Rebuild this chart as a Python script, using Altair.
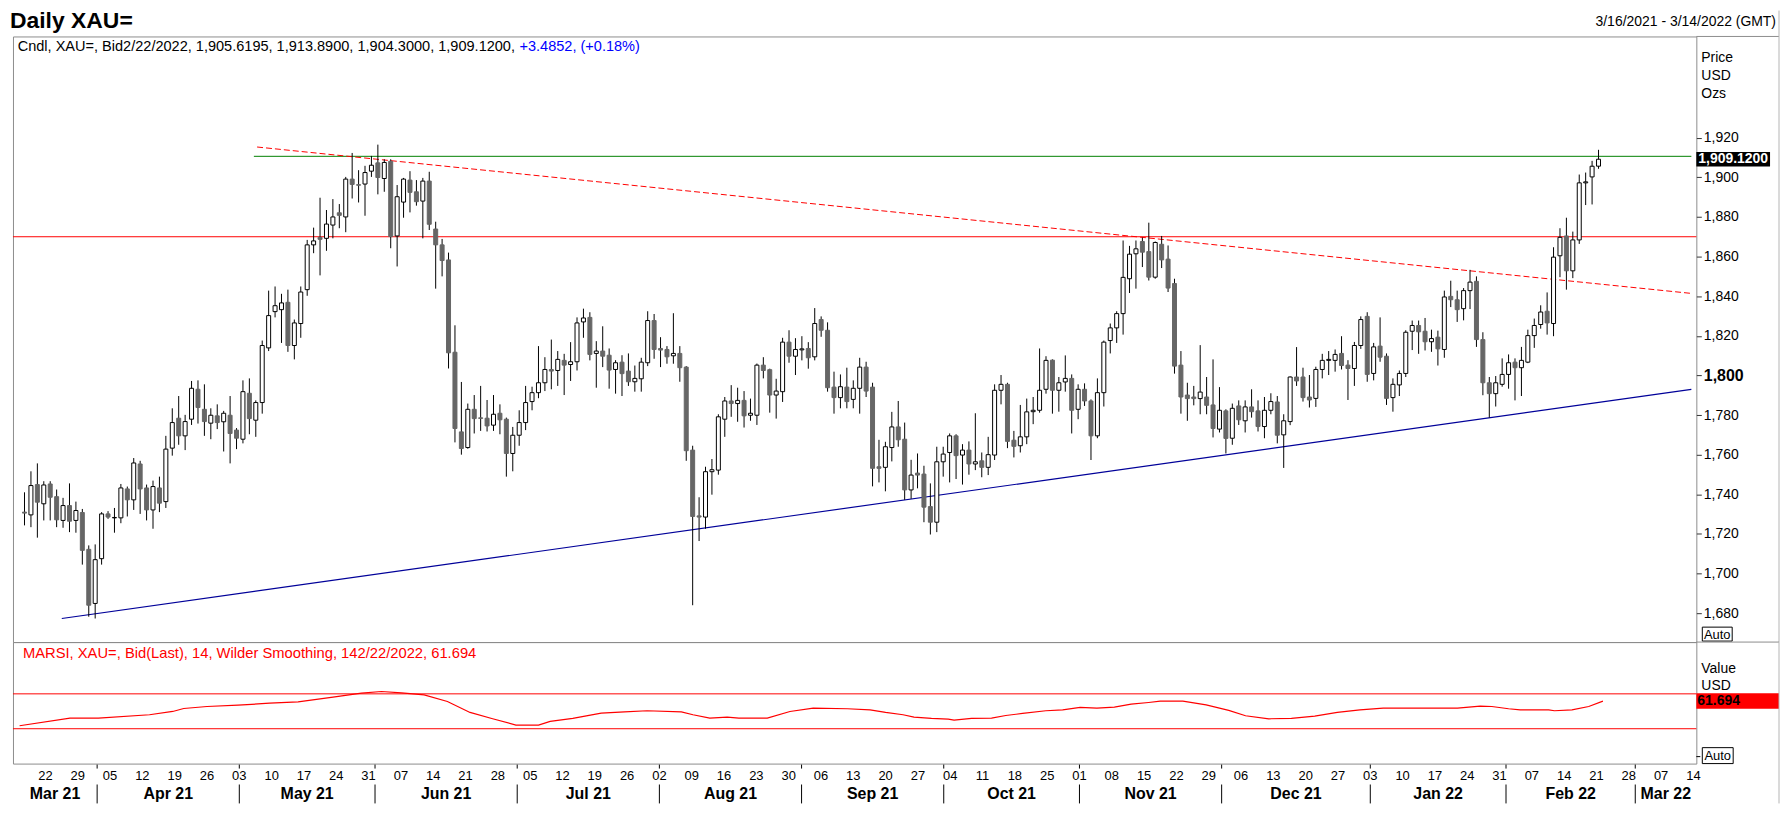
import altair as alt
import pandas as pd

FONT = "Liberation Sans"

# ---------------- data ----------------
OPEN = [
    1731.0, 1729.6, 1744.9, 1735.2, 1745.2, 1738.8, 1726.8, 1734.3, 1726.8, 1730.8,
    1712.2, 1684.9, 1707.5, 1730.1, 1728.1, 1728.1, 1742.7, 1737.2, 1755.3, 1743.2,
    1732.1, 1743.2, 1736.3, 1763.3, 1778.4, 1769.5, 1777.9, 1793.0, 1782.9, 1775.9,
    1779.6, 1776.6, 1779.9, 1772.4, 1767.8, 1791.0, 1777.4, 1786.3, 1813.9, 1832.2,
    1833.2, 1836.9, 1815.1, 1826.2, 1843.3, 1865.9, 1869.7, 1869.2, 1875.9, 1882.1,
    1880.0, 1899.1, 1896.3, 1896.6, 1903.1, 1907.3, 1899.4, 1908.1, 1870.4, 1887.5,
    1898.6, 1892.7, 1888.0, 1898.1, 1873.9, 1865.9, 1858.3, 1811.7, 1771.5, 1763.6,
    1782.9, 1778.6, 1778.4, 1774.9, 1780.9, 1777.9, 1760.6, 1769.8, 1776.2, 1786.8,
    1791.3, 1796.3, 1803.0, 1802.5, 1807.6, 1805.5, 1806.9, 1827.0, 1829.3, 1811.1,
    1812.3, 1810.2, 1803.0, 1806.7, 1802.2, 1796.8, 1798.3, 1806.4, 1827.7, 1813.6,
    1813.1, 1809.9, 1811.1, 1804.2, 1762.3, 1729.1, 1728.5, 1751.4, 1752.2, 1777.9,
    1787.1, 1785.8, 1787.4, 1779.9, 1779.9, 1805.2, 1802.9, 1790.1, 1791.8, 1816.8,
    1809.7, 1812.9, 1813.6, 1809.4, 1828.2, 1822.8, 1794.1, 1788.8, 1794.1, 1787.9,
    1793.5, 1804.2, 1794.1, 1753.9, 1753.6, 1763.6, 1774.0, 1767.8, 1742.2, 1750.7,
    1750.2, 1733.8, 1725.9, 1756.4, 1761.1, 1769.5, 1759.8, 1762.3, 1755.3, 1756.9,
    1753.6, 1759.8, 1792.5, 1795.5, 1767.3, 1764.5, 1769.0, 1781.7, 1782.4, 1793.0,
    1807.7, 1792.5, 1796.7, 1798.5, 1782.9, 1793.0, 1787.1, 1769.5, 1791.3, 1817.6,
    1824.0, 1831.2, 1848.8, 1861.4, 1867.6, 1862.5, 1849.6, 1866.2, 1858.7, 1846.4,
    1805.2, 1790.1, 1789.1, 1788.3, 1789.1, 1785.1, 1772.9, 1782.1, 1768.3, 1784.6,
    1777.1, 1784.1, 1782.1, 1774.2, 1782.4, 1786.6, 1770.0, 1776.7, 1799.2, 1799.2,
    1789.1, 1788.4, 1803.0, 1807.6, 1807.6, 1811.1, 1805.2, 1803.5, 1815.1, 1829.8,
    1801.0, 1814.8, 1809.7, 1788.8, 1795.2, 1801.0, 1822.3, 1825.2, 1822.3, 1817.0,
    1819.3, 1813.1, 1839.9, 1838.2, 1833.7, 1842.8, 1847.5, 1818.1, 1796.3, 1790.8,
    1795.5, 1800.5, 1806.7, 1803.9, 1806.7, 1820.1, 1825.7, 1832.4, 1826.2, 1860.4,
    1870.4, 1852.8, 1868.4, 1897.2, 1900.2, 1905.6195,
]
HIGH = [
    1741.0, 1751.6, 1755.6, 1746.6, 1746.6, 1742.4, 1738.2, 1745.5, 1736.3, 1732.6,
    1714.2, 1714.7, 1731.0, 1731.5, 1733.1, 1745.2, 1743.9, 1758.3, 1756.9, 1744.9,
    1746.9, 1748.9, 1769.5, 1783.4, 1789.6, 1780.1, 1797.2, 1797.5, 1795.5, 1783.4,
    1785.4, 1782.1, 1789.6, 1773.4, 1797.5, 1798.5, 1787.4, 1817.6, 1842.8, 1844.9,
    1841.2, 1843.3, 1828.2, 1844.9, 1868.4, 1874.6, 1889.7, 1883.5, 1889.0, 1886.5,
    1900.2, 1912.3, 1903.6, 1905.8, 1910.8, 1916.5, 1909.1, 1909.1, 1896.1, 1899.7,
    1903.1, 1898.6, 1899.7, 1902.8, 1877.6, 1868.9, 1862.0, 1825.3, 1796.7, 1785.8,
    1790.1, 1794.7, 1787.6, 1790.1, 1785.4, 1778.7, 1774.0, 1782.4, 1794.7, 1794.3,
    1814.8, 1809.2, 1818.1, 1812.3, 1810.9, 1816.8, 1829.3, 1833.7, 1831.9, 1817.3,
    1824.8, 1813.6, 1807.7, 1810.2, 1811.1, 1805.0, 1808.9, 1832.4, 1831.0, 1819.3,
    1814.8, 1831.4, 1814.8, 1804.7, 1764.5, 1738.5, 1753.9, 1757.8, 1780.4, 1789.1,
    1795.1, 1793.8, 1792.1, 1788.3, 1806.0, 1809.2, 1803.4, 1798.3, 1819.0, 1822.8,
    1818.8, 1819.8, 1816.8, 1834.0, 1829.8, 1826.8, 1801.9, 1800.5, 1803.9, 1797.5,
    1808.9, 1806.9, 1796.3, 1767.5, 1766.5, 1781.6, 1787.1, 1776.2, 1757.4, 1760.6,
    1754.4, 1745.5, 1764.0, 1764.0, 1770.7, 1770.3, 1765.3, 1766.7, 1780.9, 1761.1,
    1769.0, 1795.5, 1800.2, 1796.3, 1772.0, 1785.1, 1788.3, 1789.1, 1813.6, 1809.7,
    1808.1, 1799.2, 1810.1, 1800.5, 1795.5, 1796.0, 1787.9, 1798.5, 1817.6, 1826.2,
    1832.4, 1868.1, 1865.4, 1868.1, 1869.6, 1877.1, 1867.6, 1870.4, 1865.6, 1848.8,
    1812.3, 1796.3, 1794.7, 1815.3, 1799.2, 1808.1, 1794.1, 1782.9, 1785.8, 1787.4,
    1787.4, 1793.0, 1787.4, 1789.1, 1791.0, 1789.6, 1780.4, 1799.5, 1814.3, 1803.9,
    1800.2, 1804.4, 1810.9, 1812.3, 1813.1, 1819.8, 1807.7, 1816.9, 1829.8, 1831.9,
    1816.4, 1829.3, 1811.1, 1798.5, 1802.5, 1822.8, 1827.7, 1827.7, 1829.0, 1823.1,
    1822.6, 1842.8, 1847.8, 1842.8, 1844.1, 1853.3, 1850.0, 1821.8, 1799.2, 1799.7,
    1808.6, 1810.6, 1808.6, 1814.4, 1823.1, 1828.7, 1835.4, 1841.9, 1864.7, 1874.3,
    1879.6, 1872.6, 1901.4, 1902.4, 1908.3, 1913.89,
]
LOW = [
    1724.3, 1723.4, 1718.1, 1726.8, 1726.8, 1723.4, 1723.1, 1720.9, 1720.6, 1704.5,
    1678.2, 1677.3, 1704.5, 1727.6, 1720.6, 1725.4, 1728.8, 1732.1, 1730.1, 1726.8,
    1722.6, 1731.0, 1733.1, 1759.5, 1765.0, 1762.3, 1775.0, 1775.7, 1769.5, 1767.8,
    1772.9, 1761.6, 1755.6, 1762.8, 1765.7, 1770.3, 1769.0, 1780.7, 1812.3, 1829.3,
    1816.4, 1811.9, 1808.1, 1819.0, 1840.2, 1861.7, 1850.5, 1862.9, 1869.2, 1874.3,
    1872.3, 1889.3, 1887.3, 1880.6, 1900.2, 1891.4, 1892.7, 1864.2, 1855.0, 1879.6,
    1882.3, 1885.7, 1869.2, 1873.4, 1843.8, 1850.0, 1803.5, 1766.2, 1760.0, 1763.0,
    1770.7, 1772.0, 1771.7, 1772.0, 1770.3, 1748.9, 1751.6, 1764.5, 1772.4, 1782.4,
    1788.5, 1792.1, 1793.0, 1794.7, 1790.1, 1797.2, 1802.5, 1819.0, 1807.6, 1793.8,
    1804.2, 1793.3, 1790.8, 1789.6, 1794.7, 1791.8, 1791.8, 1804.7, 1808.4, 1804.2,
    1805.9, 1805.9, 1796.8, 1756.9, 1684.0, 1716.4, 1722.6, 1739.8, 1749.9, 1769.0,
    1779.1, 1776.6, 1773.7, 1777.1, 1775.0, 1798.5, 1781.2, 1778.2, 1786.6, 1806.4,
    1800.2, 1807.6, 1803.4, 1807.6, 1819.5, 1791.8, 1780.7, 1783.4, 1783.4, 1783.4,
    1780.7, 1789.1, 1744.0, 1746.0, 1741.5, 1756.6, 1764.0, 1737.2, 1737.7, 1743.0,
    1725.9, 1719.7, 1720.9, 1748.9, 1746.0, 1747.7, 1744.9, 1749.9, 1752.2, 1748.6,
    1749.7, 1757.3, 1785.4, 1763.3, 1758.6, 1761.1, 1765.3, 1775.4, 1781.2, 1790.8,
    1780.7, 1781.7, 1791.8, 1770.7, 1777.9, 1784.6, 1757.3, 1768.3, 1784.3, 1811.1,
    1816.4, 1820.6, 1841.6, 1843.8, 1854.7, 1847.9, 1848.8, 1854.2, 1842.1, 1800.9,
    1780.7, 1777.1, 1784.9, 1780.4, 1780.4, 1768.7, 1771.2, 1760.6, 1765.0, 1775.0,
    1771.2, 1778.7, 1771.7, 1768.3, 1780.4, 1765.7, 1753.3, 1774.9, 1794.7, 1786.8,
    1783.8, 1784.1, 1798.5, 1800.2, 1801.9, 1803.0, 1787.6, 1794.7, 1813.4, 1796.8,
    1797.5, 1806.9, 1785.1, 1781.7, 1789.6, 1799.2, 1812.8, 1810.9, 1812.6, 1811.9,
    1805.0, 1808.9, 1834.5, 1827.0, 1827.8, 1833.5, 1814.4, 1790.0, 1778.7, 1784.3,
    1794.3, 1793.3, 1787.4, 1789.6, 1806.2, 1813.9, 1823.6, 1820.6, 1819.8, 1849.6,
    1843.3, 1849.1, 1866.4, 1886.0, 1886.3, 1904.30,
]
CLOSE = [
    1730.5, 1744.4, 1736.0, 1744.7, 1738.5, 1727.1, 1734.3, 1726.4, 1731.8, 1711.7,
    1684.0, 1707.0, 1730.1, 1728.5, 1728.3, 1743.2, 1737.2, 1755.8, 1742.7, 1732.1,
    1743.9, 1735.5, 1762.8, 1776.2, 1769.5, 1776.7, 1793.5, 1783.8, 1776.7, 1779.9,
    1776.2, 1780.9, 1770.7, 1768.3, 1791.8, 1778.2, 1786.3, 1815.1, 1830.2, 1835.2,
    1836.6, 1815.1, 1826.5, 1842.1, 1865.9, 1867.9, 1868.7, 1876.4, 1880.0, 1880.8,
    1899.1, 1896.4, 1896.0, 1902.4, 1906.1, 1899.9, 1907.5, 1870.1, 1890.2, 1899.1,
    1892.4, 1887.7, 1898.1, 1876.3, 1865.9, 1858.0, 1811.4, 1773.2, 1763.1, 1782.9,
    1778.2, 1778.3, 1774.5, 1780.4, 1777.6, 1760.6, 1769.8, 1776.2, 1786.3, 1791.3,
    1796.3, 1803.0, 1802.2, 1808.1, 1805.2, 1806.9, 1826.5, 1829.0, 1810.6, 1812.3,
    1809.7, 1802.7, 1806.4, 1800.9, 1796.8, 1798.5, 1806.7, 1827.7, 1813.1, 1812.8,
    1809.4, 1811.1, 1803.9, 1762.0, 1728.8, 1728.5, 1751.4, 1752.4, 1779.1, 1787.1,
    1785.8, 1787.4, 1779.6, 1780.9, 1805.2, 1802.5, 1790.1, 1792.1, 1816.8, 1809.7,
    1813.1, 1813.4, 1808.9, 1826.2, 1822.8, 1793.8, 1788.8, 1794.3, 1786.8, 1793.5,
    1804.2, 1792.1, 1753.1, 1753.1, 1764.0, 1774.0, 1767.5, 1742.2, 1749.7, 1749.7,
    1733.5, 1725.9, 1756.4, 1760.3, 1769.5, 1759.5, 1762.3, 1755.3, 1756.4, 1753.6,
    1760.0, 1792.5, 1795.5, 1766.7, 1764.2, 1769.0, 1781.6, 1782.4, 1792.5, 1807.6,
    1792.5, 1796.3, 1798.5, 1782.4, 1793.0, 1787.1, 1769.5, 1791.3, 1816.8, 1824.0,
    1831.2, 1849.5, 1861.2, 1863.9, 1862.2, 1849.6, 1867.1, 1858.3, 1844.1, 1804.7,
    1789.1, 1788.3, 1788.3, 1791.6, 1784.9, 1773.2, 1782.4, 1768.2, 1783.4, 1777.6,
    1784.1, 1781.7, 1774.2, 1782.4, 1786.8, 1769.8, 1777.1, 1799.2, 1797.2, 1788.8,
    1787.6, 1803.0, 1807.6, 1808.1, 1810.6, 1805.0, 1803.5, 1815.1, 1828.2, 1800.5,
    1814.4, 1809.2, 1788.4, 1795.5, 1801.0, 1821.8, 1825.2, 1822.0, 1817.0, 1818.6,
    1813.4, 1839.6, 1838.2, 1833.2, 1842.8, 1847.1, 1818.1, 1796.3, 1790.8, 1796.3,
    1800.5, 1806.4, 1803.9, 1807.6, 1820.1, 1825.2, 1832.0, 1826.5, 1859.7, 1869.7,
    1852.8, 1868.4, 1897.2, 1897.7, 1905.6, 1909.12,
]

# RSI (14, Wilder smoothing): trading-day index -> value
RSI_X = [0, 7.8, 12.2, 20.1, 23.7, 25.4, 29.0, 33.8, 38.7, 43.1, 48.5, 52.9, 56.0,
         59.1, 62.6, 66.2, 69.7, 73.2, 76.8, 80.3, 82.1, 85.6, 90.0, 93.6, 97.1,
         102.4, 104.2, 106.8, 109.5, 111.3, 115.7, 119.2, 122.8, 128.1, 131.6, 134.0,
         136.7, 138.4, 141.1, 143.7, 144.6, 147.3, 150.4, 152.6, 155.2, 158.8, 161.4,
         164.1, 166.7, 169.4, 172.0, 174.7, 176.5, 180.0, 183.6, 187.1, 189.7, 193.3,
         196.8, 200.4, 203.9, 207.4, 211.0, 222.5, 226.0, 227.8, 230.4, 232.2, 236.6,
         237.5, 240.2, 242.8, 245.0]
RSI_Y = [33.4, 42.2, 42.2, 46.0, 49.8, 53.2, 55.5, 57.0, 59.3, 60.9, 66.2, 70.8, 72.7,
         71.1, 68.9, 61.2, 48.7, 41.4, 34.2, 34.2, 38.4, 41.8, 47.9, 49.4, 50.6,
         49.4, 46.0, 42.2, 43.3, 42.2, 42.2, 49.8, 53.6, 52.9, 51.7, 48.7,
         46.0, 43.3, 41.8, 41.0, 39.9, 41.8, 42.2, 45.2, 47.5, 50.6, 51.7,
         54.4, 53.6, 54.8, 58.2, 60.1, 61.6, 61.6, 57.4, 51.0, 44.9, 41.4,
         41.8, 44.5, 48.7, 51.7, 53.6, 53.6, 55.9, 55.5, 52.9, 51.7, 51.7,
         50.6, 51.7, 55.5, 61.694]

DAY_LABELS = ["22", "29", "05", "12", "19", "26", "03", "10", "17", "24", "31",
              "07", "14", "21", "28", "05", "12", "19", "26", "02", "09", "16",
              "23", "30", "06", "13", "20", "27", "04", "11", "18", "25", "01",
              "08", "15", "22", "29", "06", "13", "20", "27", "03", "10", "17",
              "24", "31", "07", "14", "21", "28", "07", "14"]
FIRST_MONDAY = 4          # trading-day index of Mon 22 Mar 2021
MONTH_LABELS = ["Mar 21", "Apr 21", "May 21", "Jun 21", "Jul 21", "Aug 21", "Sep 21",
                "Oct 21", "Nov 21", "Dec 21", "Jan 22", "Feb 22", "Mar 22"]
MONTH_START = [12, 34, 55, 77, 99, 121, 143, 164, 186, 209, 230, 250]

PRICE_TICKS = list(range(1680, 1921, 20))
RES_LEVEL = 1870
LAST_PRICE = CLOSE[-1]
DRAWN_LEVEL = 1910.6          # green horizontal line
RSI_BANDS = [70, 30]
RSI_LAST = RSI_Y[-1]
RES_TREND = [36.2, 1915.3, 259.45, 1841.4]   # x, price, x2, price2
SUP_TREND = [5.8, 1677.3, 259.45, 1793.0]
LAST_LINE_START = 35.7

HEADER = "Cndl, XAU=, Bid2/22/2022, 1,905.6195, 1,913.8900, 1,904.3000, 1,909.1200,"
HEADER_CHG = "+3.4852, (+0.18%)"
RSI_HEADER = "MARSI, XAU=, Bid(Last),  14, Wilder Smoothing, 142/22/2022, 61.694"

# ---------------- layout ----------------
W, H1, H2 = 1690, 608, 122
XDOM = [-1.02, 259.45]
YDOM = [1665.4, 1971.1]
RDOM = [-10, 129.4]
HFS = 14.6
RFS = 14.8
HEADER_SPLIT = 504            # where the black part of the header ends
PPU = H1 / (YDOM[1] - YDOM[0])      # pixels per price unit
RPU = H2 / (RDOM[1] - RDOM[0])      # pixels per RSI unit
FRAME = "#8c8c8c"

xs = alt.Scale(domain=XDOM, nice=False, zero=False)
ys = alt.Scale(domain=YDOM, nice=False, zero=False)
rs = alt.Scale(domain=RDOM, nice=False, zero=False)

YAX = alt.Axis(
    orient="right", values=PRICE_TICKS, format=",.0f", title=None, grid=False,
    domain=False, ticks=True, tickSize=5, tickColor="#333333", labelColor="black",
    labelFont=FONT, labelPadding=2, labelOverlap=False, labelFlush=False,
    labelFontSize=alt.condition("datum.value == 1800", alt.value(16), alt.value(14)),
    labelFontWeight=alt.condition("datum.value == 1800", alt.value("bold"), alt.value("normal")))

df = pd.DataFrame({"idx": list(range(len(CLOSE))), "open": OPEN, "high": HIGH,
                   "low": LOW, "close": CLOSE})
one = pd.DataFrame({"k": [0]})


def txt(s, x, y, size=14, color="black", weight="normal", align="left", baseline="alphabetic"):
    return alt.Chart(one).mark_text(text=s, font=FONT, fontSize=size, color=color,
                                    fontWeight=weight, align=align, baseline=baseline
                                    ).encode(x=alt.value(x), y=alt.value(y))


def box(x1, x2, y1, y2):
    return alt.Chart(one).mark_rect(fill="white", stroke="black", strokeWidth=1).encode(
        x=alt.value(x1), x2=alt.value(x2), y=alt.value(y1), y2=alt.value(y2))


def seg(x1, x2, y1, y2, color=FRAME):
    return alt.Chart(one).mark_rule(color=color, strokeWidth=1).encode(
        x=alt.value(x1), x2=alt.value(x2), y=alt.value(y1), y2=alt.value(y2))


X = alt.X("idx:Q", scale=xs, axis=None)
up = "datum.close >= datum.open"


def Yp(field):
    return alt.Y(field, scale=ys, axis=YAX)


wicks = alt.Chart(df).mark_rule(color="black", strokeWidth=1).encode(
    x=X, y=Yp("low:Q"), y2="high:Q")

bodies = alt.Chart(df).mark_bar(width=4, strokeWidth=1).encode(
    x=X, y=Yp("open:Q"), y2="close:Q",
    fill=alt.condition(up, alt.value("white"), alt.value("#666666")),
    stroke=alt.condition(up, alt.value("black"), alt.value("#666666")))

res_line = alt.Chart(pd.DataFrame({"p": [RES_LEVEL]})).mark_rule(
    color="#ff0000", strokeWidth=1).encode(y=Yp("p:Q"))

last_line = alt.Chart(pd.DataFrame({"x": [LAST_LINE_START], "x2": [XDOM[1]], "p": [DRAWN_LEVEL]})
                      ).mark_rule(color="#008000", strokeWidth=1).encode(
    x=alt.X("x:Q", scale=xs, axis=None), x2="x2:Q", y=Yp("p:Q"))


def trend(vals, **kw):
    d = pd.DataFrame({"x": [vals[0]], "p": [vals[1]], "x2": [vals[2]], "p2": [vals[3]]})
    return alt.Chart(d).mark_rule(**kw).encode(
        x=alt.X("x:Q", scale=xs, axis=None), y=Yp("p:Q"), x2="x2:Q", y2="p2:Q")


res_trend = trend(RES_TREND, color="#ff0000", strokeWidth=1, strokeDash=[6, 3])
sup_trend = trend(SUP_TREND, color="#000099", strokeWidth=1.2)

half = 7.2 / PPU
last_df = pd.DataFrame({"p": [LAST_PRICE], "top": [LAST_PRICE + half], "bot": [LAST_PRICE - half],
                        "lab": [f"{LAST_PRICE:,.4f}"]})
last_box = alt.Chart(last_df).mark_rect(color="black").encode(
    y=Yp("top:Q"), y2="bot:Q", x=alt.value(W), x2=alt.value(W + 74))
last_txt = alt.Chart(last_df).mark_text(
    align="left", baseline="middle", color="white", fontWeight="bold", fontSize=14, font=FONT
).encode(y=Yp("p:Q"), x=alt.value(W + 2), text="lab:N")

main = alt.layer(
    res_line, last_line, res_trend, sup_trend, wicks, bodies, last_box, last_txt,
    seg(W, W + 83, 0, 0), seg(W + 83, W + 83, -26, H1, "#b4b4b4"),
    txt("Daily XAU=", -3, -26, size=23, weight="bold", baseline="top"),
    txt("3/16/2021 - 3/14/2022 (GMT)", W + 80, -11, align="right"),
    txt(HEADER, HEADER_SPLIT, 15, size=HFS, align="right"),
    txt(HEADER_CHG, HEADER_SPLIT + 4.5, 15, size=HFS, color="#0000ff"),
    txt("Price", W + 5, 26), txt("USD", W + 5, 44), txt("Ozs", W + 5, 62),
    box(W + 6, W + 36, 593, 607), txt("Auto", W + 21, 604.5, size=13, align="center"),
).properties(width=W, height=H1)

# ---------------- RSI panel ----------------
rsi_df = pd.DataFrame({"x": RSI_X, "v": RSI_Y})
rsi_line = alt.Chart(rsi_df).mark_line(color="#ff0000", strokeWidth=1.2).encode(
    x=alt.X("x:Q", scale=xs, axis=None), y=alt.Y("v:Q", scale=rs, axis=None))
bands = alt.Chart(pd.DataFrame({"v": RSI_BANDS})).mark_rule(color="#ff0000", strokeWidth=1).encode(
    y=alt.Y("v:Q", scale=rs, axis=None))
rhalf = 7.8 / RPU
rsi_last = pd.DataFrame({"v": [RSI_LAST], "top": [RSI_LAST + rhalf], "bot": [RSI_LAST - rhalf],
                         "lab": [f"{RSI_LAST:.3f}"]})
rsi_box = alt.Chart(rsi_last).mark_rect(color="#ff0000").encode(
    y=alt.Y("top:Q", scale=rs, axis=None), y2="bot:Q", x=alt.value(W), x2=alt.value(W + 83))
rsi_txt = alt.Chart(rsi_last).mark_text(
    align="left", baseline="middle", color="black", fontWeight="bold", fontSize=14, font=FONT
).encode(y=alt.Y("v:Q", scale=rs, axis=None), x=alt.value(W + 1), text="lab:N")

days_df = pd.DataFrame({"idx": [FIRST_MONDAY + 5 * i for i in range(len(DAY_LABELS))],
                        "lab": DAY_LABELS})
edges = [XDOM[0]] + MONTH_START + [XDOM[1]]
months_df = pd.DataFrame({"mid": [(edges[i] + edges[i + 1]) / 2 for i in range(len(MONTH_LABELS))],
                          "lab": MONTH_LABELS})
bounds_df = pd.DataFrame({"idx": MONTH_START})

day_lab = alt.Chart(days_df).mark_text(font=FONT, fontSize=13, baseline="alphabetic").encode(
    x=X, y=alt.value(H2 + 16), text="lab:N")
month_lab = alt.Chart(months_df).mark_text(font=FONT, fontSize=16, fontWeight="bold",
                                           baseline="alphabetic").encode(
    x=alt.X("mid:Q", scale=xs, axis=None), y=alt.value(H2 + 36), text="lab:N")
seps = alt.Chart(bounds_df).mark_rule(color="black", strokeWidth=1).encode(
    x=X, y=alt.value(H2 + 21), y2=alt.value(H2 + 40))
mticks = alt.Chart(bounds_df).mark_rule(color="black", strokeWidth=1).encode(
    x=X, y=alt.value(H2 + 1), y2=alt.value(H2 + 5))

rsi = alt.layer(
    bands, rsi_line, rsi_box, rsi_txt, day_lab, month_lab, seps, mticks,
    seg(W, W + 4, 115, 115, "black"),
    seg(W, W + 83, 0, 0), seg(W + 83, W + 83, 0, H2 + 40, "#b4b4b4"),
    txt(RSI_HEADER, 10, 16, size=RFS, color="#ff0000"),
    txt("Value", W + 5, 31), txt("USD", W + 5, 48.5),
    box(W + 6, W + 37, 106, 122), txt("Auto", W + 21.5, 118.5, size=13, align="center"),
).properties(width=W, height=H2)

chart = alt.vconcat(main, rsi, spacing=0, bounds="flush").configure_view(
    stroke=FRAME, strokeWidth=1).properties(
    padding={"left": 1, "top": 0, "right": 0, "bottom": 0}, background="white")

chart.save("out.html", embed_options={"renderer": "svg", "actions": False})
